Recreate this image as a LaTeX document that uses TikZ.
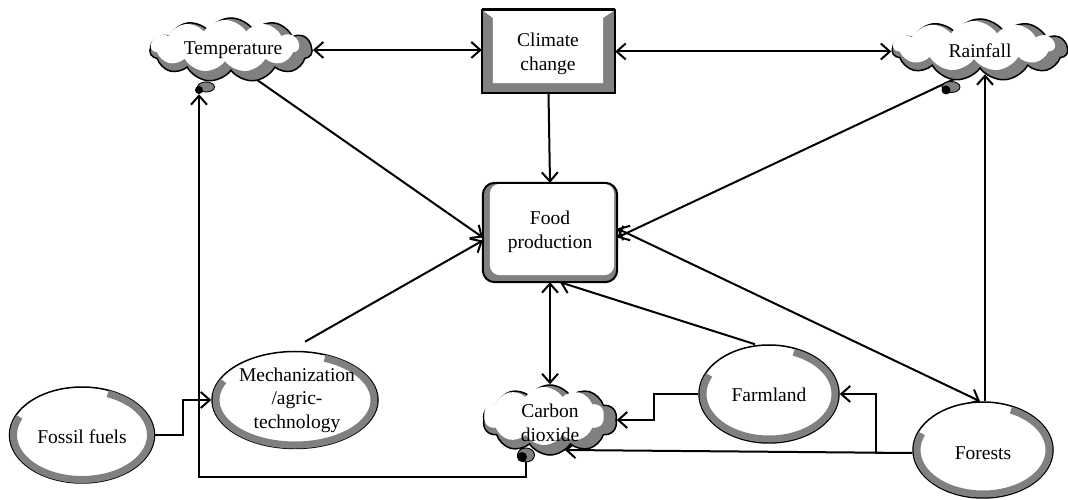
\documentclass[tikz,border=0pt]{standalone}
\usepackage{fontspec}
\setmainfont{Liberation Serif}
\usetikzlibrary{shapes.geometric,shapes.symbols,arrows.meta,calc,backgrounds}
\definecolor{bandgray}{RGB}{128,128,128}
\tikzset{
  lbl/.style={font=\fontsize{19.5}{23.5}\selectfont, align=center, inner sep=0},
  conn/.style={line width=2pt, -{Straight Barb[length=9pt,width=16pt]}},
  dconn/.style={line width=2pt, {Straight Barb[length=9pt,width=16pt]}-{Straight Barb[length=9pt,width=16pt]}},
  cloudout/.style={cloud, cloud puffs=11, cloud puff arc=115, cloud ignores aspect, draw=black, line width=1.5pt, fill=bandgray, inner sep=0},
  cloudin/.style={cloud, cloud puffs=11, cloud puff arc=115, cloud ignores aspect, fill=white, inner sep=0},
  oval/.style={ellipse, draw=black, line width=1.5pt, fill=white, inner sep=0},
  band/.style={draw=bandgray, line width=7pt},
  bubble/.style={ellipse, draw=black, line width=0.9pt, fill=bandgray, inner sep=0},
  dot/.style={circle, fill=black, inner sep=0},
}
\begin{document}
\begin{tikzpicture}[x=1pt,y=1pt]
\useasboundingbox (0,0) rectangle (1068,500);

% Climate change (bevelled box)
\node[minimum width=133pt, minimum height=83pt, inner sep=0] (cc) at (548.5,448.5) {};
\fill[bandgray] (cc.south west) rectangle (cc.north east);
\fill[white] (cc.north west) -- (cc.north east) -- ($(cc.north east)+(-12,-8)$) -- ($(cc.south east)+(-12,10)$) -- ($(cc.south west)+(11,10)$) -- ($(cc.north west)+(11,-8)$) -- cycle;
\draw[line width=2pt] (cc.south west) rectangle (cc.north east);
\draw[line width=3pt] (cc.north west) -- (cc.north east);
\node[lbl] (cct) at (548,446) {Climate\\change};

% Food production
\node[minimum width=134pt, minimum height=99pt, inner sep=0] (food) at (550,267.5) {};
\fill[bandgray, rounded corners=12pt] (food.south west) rectangle (food.north east);
\fill[white, rounded corners=10pt] ($(food.south west)+(7,7)$) rectangle ($(food.north east)+(-3,-1)$);
\draw[line width=2pt, rounded corners=12pt] (food.south west) rectangle (food.north east);
\node[lbl] (foodt) at (550,268) {Food\\production};

% Clouds
\node[cloudout, minimum width=162pt, minimum height=64pt] (temp) at (231,450) {};
\node[cloudin, minimum width=148pt, minimum height=52pt] at ($(temp.center)+(-6,4)$) {};
\node[lbl] (tempt) at (233,450) {Temperature};

\node[cloudout, minimum width=175pt, minimum height=62pt] (rain) at (980,450) {};
\node[cloudin, minimum width=161pt, minimum height=50pt] at ($(rain.center)+(-6,4)$) {};
\node[lbl] (raint) at (980,449) {Rainfall};

\node[cloudout, minimum width=134pt, minimum height=70pt, cloud puffs=10] (co2) at (550,80) {};
\node[cloudin, minimum width=120pt, minimum height=58pt, cloud puffs=10] at ($(co2.center)+(-6,4)$) {};
\node[lbl] (co2t) at (550,77) {Carbon\\dioxide};

% Ellipses
\node[oval, minimum width=145pt, minimum height=96pt] (fossil) at (82,65) {};
\draw[band] ($(fossil.center)+(156:68.5pt and 44.5pt)$) arc[start angle=156, end angle=428, x radius=68.5pt, y radius=44.5pt];
\node[lbl] (fossilt) at (82,63) {Fossil fuels};

\node[oval, minimum width=166pt, minimum height=97pt] (mech) at (295,100) {};
\draw[band] ($(mech.center)+(155:79pt and 45pt)$) arc[start angle=155, end angle=428, x radius=79pt, y radius=45pt];
\node[lbl] (mecht) at (297,100) {Mechanization\\/agric-\\technology};

\node[oval, minimum width=140pt, minimum height=98pt] (farm) at (769,106) {};
\draw[band] ($(farm.center)+(155:66pt and 45pt)$) arc[start angle=155, end angle=428, x radius=66pt, y radius=45pt];
\node[lbl] (farmt) at (769,105) {Farmland};

\node[oval, minimum width=140pt, minimum height=96pt] (forest) at (983,50) {};
\draw[band] ($(forest.center)+(158:66pt and 44pt)$) arc[start angle=158, end angle=425, x radius=66pt, y radius=44pt];
\node[lbl] (forestt) at (983,47) {Forests};

% Bubbles
\node[bubble, minimum width=17pt, minimum height=10pt] (tb) at (206,413) {};
\node[dot, minimum size=8pt] (td) at (199,410) {};
\node[bubble, minimum width=18pt, minimum height=11pt] (rb) at (951,413) {};
\node[dot, minimum size=9pt] (rd) at (946,410) {};
\node[bubble, minimum width=17pt, minimum height=14pt] (cb) at (526,45) {};
\node[dot, minimum size=10pt] (cd) at (522,43) {};

\coordinate (co2in) at ($(co2.center)+(15,-33)$);

\begin{scope}[on background layer]
\draw[dconn] (temp.east) -- (temp.east -| cc.west);
\draw[dconn] (cc.east) -- (cc.east -| rain.west);
\draw[conn] (cc.south) -- (food.north);
\draw[conn] ([xshift=14pt]temp.south) -- ([yshift=-5pt]food.west);
\draw[conn] ([xshift=-5pt]rain.south) -- ([yshift=-5pt]food.east);
\draw[conn] ([shift={(10pt,9pt)}]mech.north) -- ([yshift=-8pt]food.west);
\draw[dconn] (food.south) -- (co2.north);
\draw[conn] ([xshift=-14pt]farm.north) -- ([xshift=10pt]food.south);
\draw[dconn] ([yshift=4pt]food.east) -- ([xshift=-3pt]forest.north);
\draw[conn] ([xshift=2pt]forest.north) -- ($(forest.north |- rain.south)+(2,-5)$);
\draw[conn] (fossil.east) -- ++(28,0) |- (mech.west);
\draw[conn] (cb.south) -- ++(0,-15) -| (td.south);
\draw[conn] (farm.west) -- ++(-44,0) |- (co2.east);
\draw[conn] ([yshift=-3pt]forest.west) -- (forest.west -| co2in);
\draw[conn] ([yshift=-3pt]forest.west) -- ++(-36,0) |- (farm.east);
\end{scope}
\end{tikzpicture}
\end{document}
